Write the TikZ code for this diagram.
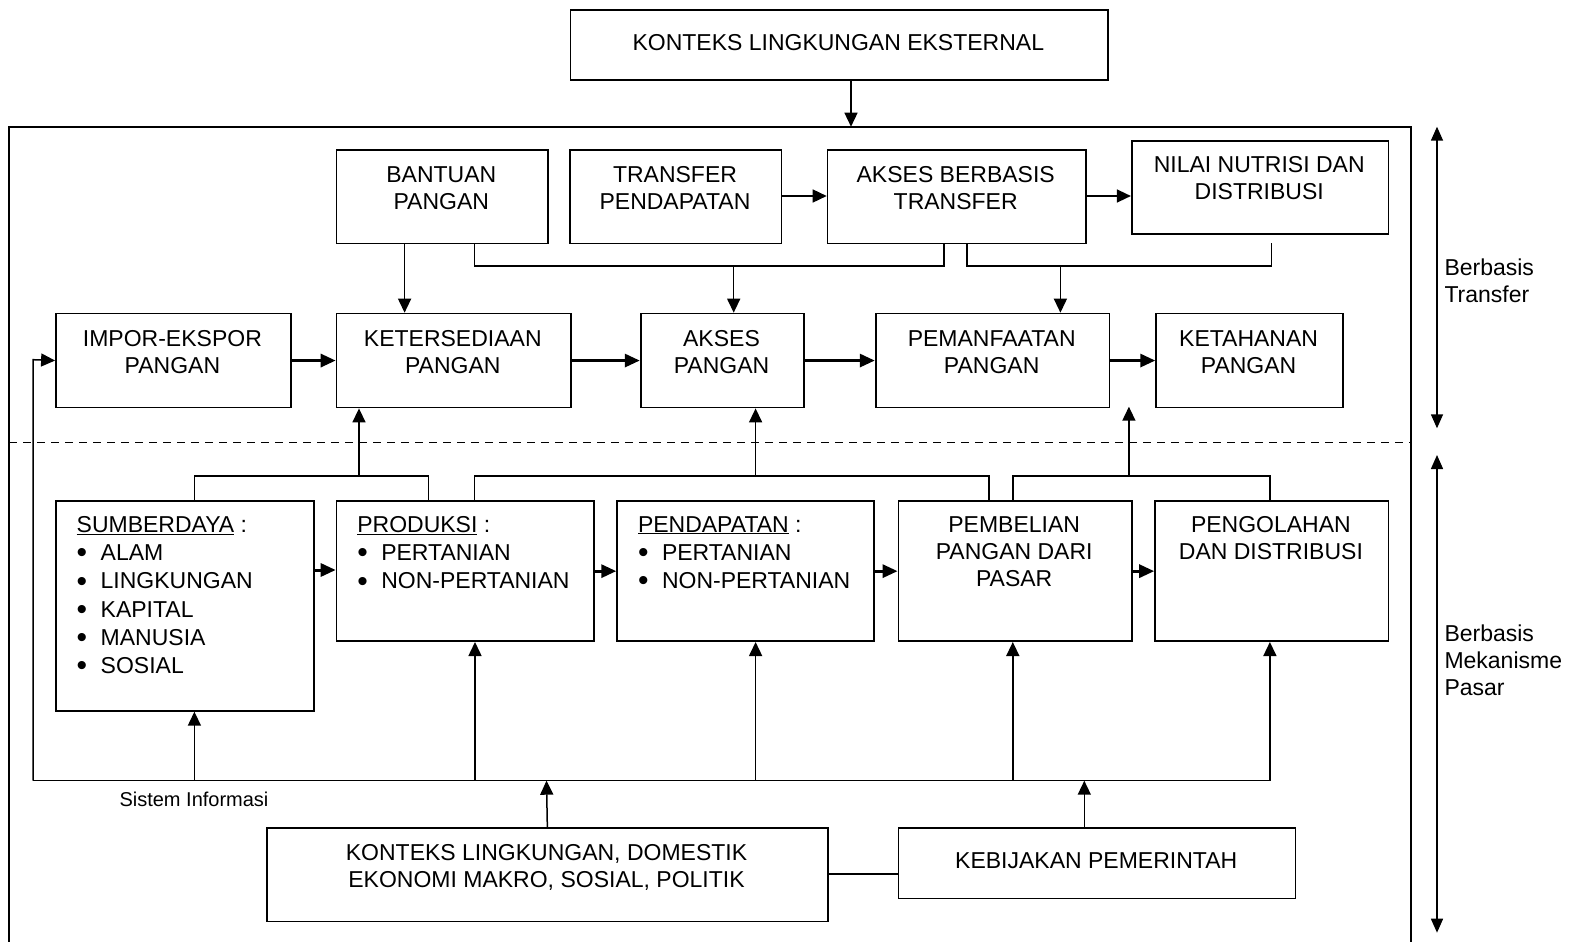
\documentclass[tikz,border=0pt]{standalone}
\usepackage{fontspec}
\setmainfont{Liberation Sans}
\usetikzlibrary{arrows.meta,calc}
\begin{document}
\begin{tikzpicture}[x=1pt,y=-1pt,
  bx/.style={draw,line width=1.7pt,inner sep=0pt,anchor=north west},
  txt/.style={inner sep=0pt,font=\fontsize{23}{27}\selectfont,align=center,anchor=north},
  lst/.style={inner sep=0pt,font=\fontsize{23}{28.3}\selectfont,align=left,anchor=north west},
  ln/.style={line width=1.5pt},
  ar/.style={line width=1.5pt,-{Triangle[length=14pt,width=13pt]}},
  tar/.style={line width=3pt,-{Triangle[length=15pt,width=13pt]}},
  dar/.style={line width=1.5pt,{Triangle[length=14pt,width=12pt]}-{Triangle[length=14pt,width=12pt]}},
]
\useasboundingbox (0,0) rectangle (1575,942);
\newcommand{\bul}[1]{\makebox[24pt][l]{\raisebox{-2.2pt}{\fontsize{30}{30}\selectfont\textbullet}}#1}

% frame and separator
\draw[line width=1.7pt] (9.2,945) -- (9.2,126.7) -- (1411.3,126.7) -- (1411.3,945);
\draw[line width=1.5pt,dash pattern=on 8pt off 6pt] (9.2,442.7) -- (1411.3,442.7);
\coordinate (ftop) at (851,126.7);

% boxes
\node[bx,minimum width=537.4pt,minimum height=70.4pt] (ext) at (569.6,9) {};
\node[txt,anchor=center] (extT) at (838.3,43) {KONTEKS LINGKUNGAN EKSTERNAL};

\node[bx,minimum width=211.2pt,minimum height=93.4pt] (ban) at (335.7,149.3) {};
\node[txt] (banT) at (441.3,166.5) {BANTUAN\\PANGAN};
\node[bx,minimum width=211.2pt,minimum height=93.4pt] (trf) at (569.4,149.3) {};
\node[txt] (trfT) at (675,166.5) {TRANSFER\\PENDAPATAN};
\node[bx,minimum width=258.1pt,minimum height=93.4pt] (abt) at (826.7,149.3) {};
\node[txt] (abtT) at (955.7,166.5) {AKSES BERBASIS\\TRANSFER};
\node[bx,minimum width=256.6pt,minimum height=93.3pt] (nil) at (1130.9,140) {};
\node[txt] (nilT) at (1259.2,156) {NILAI NUTRISI DAN\\DISTRIBUSI};

\node[bx,minimum width=234.7pt,minimum height=94pt] (imp) at (55.1,312.7) {};
\node[txt] (impT) at (172.4,330.7) {IMPOR-EKSPOR\\PANGAN};
\node[bx,minimum width=234.2pt,minimum height=94pt] (ket) at (335.7,312.7) {};
\node[txt] (ketT) at (452.8,330.7) {KETERSEDIAAN\\PANGAN};
\node[bx,minimum width=163.5pt,minimum height=94pt] (akp) at (639.8,312.7) {};
\node[txt] (akpT) at (721.5,330.7) {AKSES\\PANGAN};
\node[bx,minimum width=233.8pt,minimum height=94pt] (pem) at (874.8,312.7) {};
\node[txt] (pemT) at (991.7,330.7) {PEMANFAATAN\\PANGAN};
\node[bx,minimum width=186.6pt,minimum height=94pt] (kth) at (1155.3,312.7) {};
\node[txt] (kthT) at (1248.6,330.7) {KETAHANAN\\PANGAN};

\node[bx,minimum width=257.7pt,minimum height=209.7pt] (sum) at (55.1,500.3) {};
\node[lst] (sumT) at (76.5,516) {\underline{SUMBERDAYA} :\\\bul{ALAM}\\\bul{LINGKUNGAN}\\\bul{KAPITAL}\\\bul{MANUSIA}\\\bul{SOSIAL}};
\node[bx,minimum width=257.7pt,minimum height=140pt] (pro) at (335.7,500.3) {};
\node[lst] (proT) at (357.1,516) {\underline{PRODUKSI} :\\\bul{PERTANIAN}\\\bul{NON-PERTANIAN}};
\node[bx,minimum width=257pt,minimum height=140pt] (pdp) at (616.3,500.3) {};
\node[lst] (pdpT) at (637.8,516) {\underline{PENDAPATAN} :\\\bul{PERTANIAN}\\\bul{NON-PERTANIAN}};
\node[bx,minimum width=233.3pt,minimum height=140pt] (pbl) at (897.6,500.3) {};
\node[txt] (pblT) at (1014.2,516) {PEMBELIAN\\PANGAN DARI\\PASAR};
\node[bx,minimum width=233.3pt,minimum height=140pt] (pgl) at (1154.2,500.3) {};
\node[txt] (pglT) at (1270.9,516) {PENGOLAHAN\\DAN DISTRIBUSI};

\node[bx,minimum width=561.4pt,minimum height=93.4pt] (kdm) at (265.8,827.3) {};
\node[txt] (kdmT) at (546.5,844) {KONTEKS LINGKUNGAN, DOMESTIK\\EKONOMI MAKRO, SOSIAL, POLITIK};
\node[bx,minimum width=397.1pt,minimum height=70.4pt] (keb) at (897.6,827.3) {};
\node[txt,anchor=center] (kebT) at (1096.2,861) {KEBIJAKAN PEMERINTAH};

% side labels
\node[lst,font=\fontsize{23}{27}\selectfont] (lbl1) at (1444.3,258.3) {Berbasis\\Transfer};
\node[lst,font=\fontsize{23}{27.3}\selectfont] (lbl2) at (1444.3,624.3) {Berbasis\\Mekanisme\\Pasar};
\node[inner sep=0pt,anchor=north,font=\fontsize{20}{24}\selectfont] (sis) at (194,792) {Sistem Informasi};
\draw[dar] (1437,126.7) -- (1437,428.3);
\draw[dar] (1437,455) -- (1437,932.7);

% top connectors
\draw[ar] (851,0 |- ext.south) -- (ftop);
\draw[ar] (trf.east |- 0,196) -- (abt.west |- 0,196);
\draw[ar] (abt.east |- 0,196) -- (nil.west |- 0,196);
\draw[ar] (404.6,0 |- ban.south) -- (404.6,0 |- ket.north);
\draw[ln] (474.5,0 |- ban.south) -- (474.5,266) -- (943.8,266) -- (943.8,0 |- abt.south);
\draw[ar] (733.7,266) -- (733.7,0 |- akp.north);
\coordinate (nilend) at (1271.4,242.7);
\draw[ln] (967.1,0 |- abt.south) -- (967.1,266) -- (1271.4,266) -- (nilend);
\draw[ar] (1060.4,266) -- (1060.4,0 |- pem.north);

% row 2 arrows
\draw[tar] (imp.east) -- (ket.west);
\draw[tar] (ket.east) -- (akp.west);
\draw[tar] (akp.east) -- (pem.west);
\draw[tar] (pem.east) -- (kth.west);

% row 4 arrows
\draw[tar] (sum.east |- 0,570) -- (pro.west |- 0,570);
\draw[tar] (pro.east) -- (pdp.west);
\draw[tar] (pdp.east) -- (pbl.west);
\draw[tar] (pbl.east) -- (pgl.west);

% brackets up
\draw[ln] (194.4,0 |- sum.north) -- (194.4,476) -- (428.6,476) -- (428.6,0 |- pro.north);
\draw[ar] (359,476) -- (359,0 |- ket.south);
\draw[ln] (474.5,0 |- pro.north) -- (474.5,476) -- (988.9,476) -- (988.9,0 |- pbl.north);
\draw[ar] (755.6,476) -- (755.6,0 |- akp.south);
\coordinate (ktup) at (1128.9,406.7);
\draw[ln] (1012.8,0 |- pbl.north) -- (1012.8,476) -- (1269.9,476) -- (1269.9,0 |- pgl.north);
\draw[ar] (1128.9,476) -- (ktup);

% bus
\coordinate (busL) at (33.2,780.7);
\coordinate (busR) at (1269.9,780.7);
\draw[ln] (busR) -- (busL);
\draw[ar] (busL) -- (33.2,359.7) -- (imp.west);
\draw[ar] (194.4,780.7) -- (194.4,0 |- sum.south);
\draw[ar] (475,780.7) -- (475,0 |- pro.south);
\draw[ar] (755.6,780.7) -- (755.6,0 |- pdp.south);
\draw[ar] (1012.8,780.7) -- (1012.8,0 |- pbl.south);
\draw[ar] (busR) -- (1269.9,0 |- pgl.south);
\draw[ar] (kdm.north) -- (546.5,780.7);
\draw[ar] (1084.3,0 |- keb.north) -- (1084.3,780.7);
\draw[ln] (kdm.east |- 0,874) -- (keb.west |- 0,874);
\end{tikzpicture}
\end{document}
